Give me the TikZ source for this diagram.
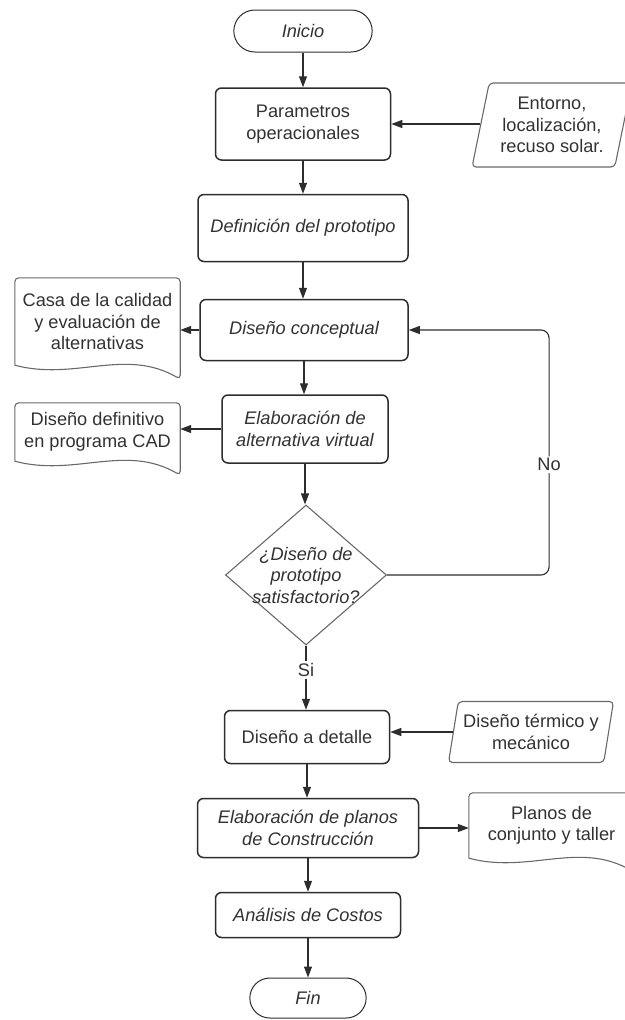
\documentclass[tikz,border=0pt]{standalone}
\usepackage{fontspec}
\setmainfont{Liberation Sans}
\usetikzlibrary{positioning, arrows.meta, shapes.geometric, shapes.misc}
\definecolor{LineColor}{RGB}{45,45,45}
\definecolor{SideColor}{RGB}{105,105,105}
\definecolor{TextColor}{RGB}{50,50,50}
\newcommand{\flowfont}{\fontsize{18.2}{21.5}\selectfont}

\begin{document}
\begin{tikzpicture}[x=1pt, y=-1pt, font=\flowfont, text=TextColor,
    terminal/.style={rounded rectangle, draw=LineColor, line width=1pt, minimum width=145pt, minimum height=42pt, font=\flowfont\itshape},
    process/.style={rectangle, rounded corners=6pt, draw=LineColor, line width=1.5pt, align=center, inner sep=2pt},
    slanttext/.style={font=\flowfont\itshape},
    inputbox/.style={trapezium, trapezium left angle=76, trapezium right angle=104, trapezium stretches=true, rounded corners=4pt, draw=SideColor, line width=1.1pt, align=center, inner sep=1pt},
    docbox/.style={rectangle, align=center, inner sep=1pt},
    docline/.style={draw=SideColor, line width=1.1pt, rounded corners=4pt},
    decision/.style={diamond, draw=SideColor, line width=1.1pt, minimum width=161pt, minimum height=140pt, inner sep=0pt},
    arrow/.style={-{Triangle[length=11pt,width=8pt]}, draw=LineColor, line width=1.1pt},
    tag/.style={fill=white, inner sep=2pt}]
  \useasboundingbox (0,0) rectangle (624,1020);

  \node[terminal] (inicio) at (303,31) {Inicio};
  \node[process, minimum width=175pt, minimum height=72pt] (param) at (303,124) {Parametros\\operacionales};
  \node[inputbox, minimum width=160pt, minimum height=84pt] (entorno) at (552,125) {Entorno,\\localización,\\recuso solar.};
  \node[process, slanttext, minimum width=210pt, minimum height=67pt] (proto) at (303,228) {Definición del prototipo};
  \node[process, slanttext, minimum width=208pt, minimum height=61pt] (concept) at (304,330) {Diseño conceptual};
  \node[docbox, minimum width=165pt, minimum height=87pt] (casa) at (97.5,321.5) {Casa de la calidad\\y evaluación de\\alternativas};
  \node[process, slanttext, minimum width=166pt, minimum height=68pt] (virtual) at (305,429) {Elaboración de\\alternativa virtual};
  \node[docbox, minimum width=165pt, minimum height=58pt] (cad) at (97.5,432) {Diseño definitivo\\en programa CAD};
  \node[decision, label={[slanttext, align=center]center:{¿Diseño de\\prototipo\\satisfactorio?}}] (check) at (306,575) {};
  \node[process, minimum width=165pt, minimum height=53pt] (detalle) at (307,737) {Diseño a detalle};
  \node[inputbox, minimum width=165pt, minimum height=61pt] (termico) at (531,732) {Diseño térmico y\\mecánico};
  \node[process, slanttext, minimum width=221pt, minimum height=59pt] (planos) at (308,828) {Elaboración de planos\\de Construcción};
  \node[docbox, minimum width=165pt, minimum height=65pt] (taller) at (551.5,825.5) {Planos de\\conjunto y taller};
  \node[process, slanttext, minimum width=185pt, minimum height=45pt] (costos) at (308,915) {Análisis de Costos};
  \node[terminal, minimum width=123pt, minimum height=40pt] (fin) at (308,998) {Fin};

  \foreach \d in {casa, cad, taller}
    \draw[docline] (\d.south west) -- (\d.north west) -- (\d.north east) -- ([yshift=-14pt]\d.south east)
      .. controls +(-55,-32) and +(60,16) .. (\d.south west);

  \draw[arrow] (inicio.south) -- (inicio.south |- param.north);
  \draw[arrow] (entorno.west |- param.east) -- (param.east);
  \draw[arrow] (param.south) -- (param.south |- proto.north);
  \draw[arrow] (proto.south) -- (proto.south |- concept.north);
  \draw[arrow] (concept.west) -- (concept.west -| casa.east);
  \draw[arrow] (concept.south) -- (concept.south |- virtual.north);
  \draw[arrow] (virtual.west) -- (virtual.west -| cad.east);
  \draw[arrow] (virtual.south) -- (virtual.south |- check.north);
  \draw[arrow, rounded corners=8pt] (check.east) -- ++(162,0) |- (concept.east) node[tag, pos=0.225] {No};
  \draw[arrow] (check.south) -- node[tag, pos=0.38] {Si} (check.south |- detalle.north);
  \draw[arrow] (termico.west) -- (termico.west -| detalle.east);
  \draw[arrow] (detalle.south) -- (detalle.south |- planos.north);
  \draw[arrow] (planos.east) -- (planos.east -| taller.west);
  \draw[arrow] (planos.south) -- (planos.south |- costos.north);
  \draw[arrow] (costos.south) -- (costos.south |- fin.north);
\end{tikzpicture}
\end{document}
